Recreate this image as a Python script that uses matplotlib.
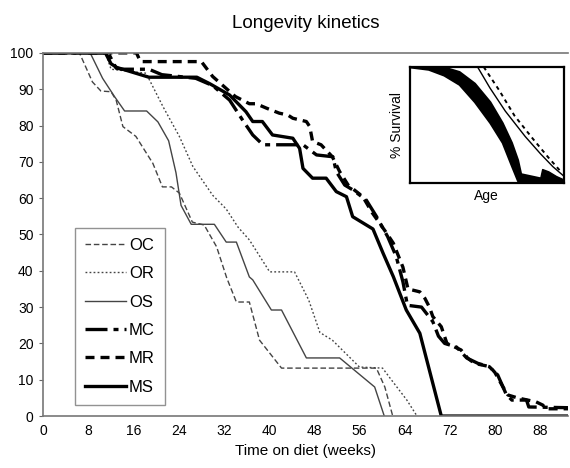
import matplotlib
matplotlib.use("Agg")
import matplotlib.pyplot as plt

plt.rcParams['font.family'] = ['Liberation Sans', 'DejaVu Sans']

# survival curves (weeks, % survival)
oc_t = [0, 6.4, 8.7, 10.2, 12.0, 12.9, 14.1, 16.4, 19.4, 21.1, 22.7, 24.1, 26.4, 28.5, 30.7, 32.5, 34.2, 36.5, 38.3, 42.2, 59.0, 60.5, 61.9]
oc_s = [100, 100, 92, 89.5, 89.3, 87, 79.7, 77, 69.6, 63.1, 63.1, 61.4, 53.4, 52.6, 46.6, 38, 31.4, 31.4, 20.9, 13.2, 13.2, 8, 0]

or_t = [0, 11, 12, 18.2, 21.2, 24.1, 26.5, 30.0, 32.4, 34.5, 36.5, 40.1, 44.5, 47.0, 49.0, 51.2, 56.0, 60.1, 61.3, 64.4, 66.2]
or_s = [100, 100, 95.5, 94.4, 85.2, 77, 68.7, 60.8, 57, 52, 48.5, 39.7, 39.7, 32, 23, 20.9, 13.5, 13.2, 10.7, 4.4, 0]

os_t = [0, 8.3, 10.5, 12.6, 14.4, 18.3, 20.3, 22.2, 23.5, 24.4, 26.2, 30.3, 32.4, 34.2, 36.5, 37.1, 40.4, 42.2, 46.6, 52.5, 58.7, 60.4]
os_s = [100, 100, 93, 88, 84, 84, 81, 75.8, 67, 58, 52.8, 52.8, 47.9, 47.9, 38.3, 37.5, 29.2, 29.2, 16, 16, 8, 0]

mc_t = [0, 11.5, 12.9, 14.0, 18.7, 21, 27, 30, 33, 35.3, 37.1, 38.9, 46.0, 48.4, 51.3, 51.9, 53.4, 54.8, 57.2, 59.0, 61.0, 62.5, 63.7, 64.5, 67.0, 69.0, 70.0,
        71.1, 73.2, 75.0, 77.0, 79.0, 80.5, 82.0, 83.0, 85.6, 86.0, 93]
mc_s = [100, 100, 95.8, 95.5, 95.5, 94, 93, 91, 87, 81.5, 77.4, 74.7, 74.7, 71.9, 71.4, 67.3, 63.6, 62.3, 59.5, 55, 49.4, 44, 37, 30.5, 30, 26, 22,
        20, 19, 16, 14.5, 13.6, 11.3, 6, 4.4, 4.4, 2.5, 2.3]

mr_t = [0, 16.5, 17.2, 28, 30, 34, 36.5, 37.7, 39.5, 41.8, 43.3, 44.2, 46.6, 47.2, 47.7, 49.2, 51.2, 52.5, 54.0, 56.6, 58.3, 60.8, 62.0, 63.7, 64.6, 66.7,
        67.6, 68.4, 69.0, 70.5, 71.5, 74.0, 75.2, 76.4, 79.1, 80.0, 81.4, 82.3, 84.0, 87.3, 88.5, 89.0, 93]
mr_s = [100, 100, 97.6, 97.6, 93.5, 88, 86, 86, 84.8, 83.4, 82.9, 82, 81.1, 79.7, 75.6, 74.7, 71.4, 67.3, 63.6, 60.4, 55.9, 50.4, 47.6, 41, 35, 34.2,
        32.4, 30, 27.4, 24.6, 20, 18.2, 15.9, 14.5, 13.6, 12, 8.1, 5.8, 5, 3.9, 3, 2, 2]

ms_t = [0, 11, 12, 13, 18.7, 27.2, 29.5, 33, 35.9, 37.1, 38.8, 40.6, 44.2, 45.4, 46.0, 47.7, 50.1, 51.9, 53.7, 54.8, 58.4, 60.2, 62.0, 64.3, 66.7, 70.5, 93]
ms_s = [100, 100, 97, 96, 93.3, 93.3, 91.5, 88.4, 83.8, 81.1, 81.1, 77.4, 76.5, 73.7, 68.2, 65.5, 65.5, 61.8, 60.4, 54.9, 51.5, 44.8, 38.4, 29.2, 22.8, 0, 0]

# inset: schematic survival vs age (age as fraction of span)
in_band_t = [0, 0.12, 0.22, 0.32, 0.42, 0.52, 0.60, 0.66, 0.70, 0.72, 1.0]
in_band_lo = [100, 98, 93, 85, 70, 52, 35, 15, 2, 0, 0]
in_band_hi = [100, 100, 100, 96, 86, 70, 52, 35, 20, 8, 0]
in_tail_t = [0.70, 0.84, 0.86, 0.90, 0.95, 1.0]
in_tail_s = [0, 0, 12, 10, 6, 3]
in_a_t = [0.44, 0.52, 0.62, 0.75, 0.85, 0.93, 1.0]
in_a_s = [100, 82, 62, 40, 25, 14, 6]
in_b_t = [0.48, 0.58, 0.68, 0.80, 0.90, 0.98]
in_b_s = [100, 80, 58, 38, 22, 10]

fig = plt.figure(figsize=(5.7, 4.68), dpi=100)
ax = fig.add_axes([0.076, 0.111, 0.921, 0.776])

grey = '#444444'
ax.plot(oc_t, oc_s, color=grey, lw=1.0, dashes=(4, 2), label='OC')
ax.plot(or_t, or_s, color=grey, lw=1.0, dashes=(1.3, 1.6), label='OR')
ax.plot(os_t, os_s, color=grey, lw=1.0, label='OS')
ax.plot(mc_t, mc_s, color='black', lw=2.4, dashes=(6.6, 1.8, 1.5, 1.8), label='MC')
ax.plot(mr_t, mr_s, color='black', lw=2.4, dashes=(2.7, 1.8), label='MR')
ax.plot(ms_t, ms_s, color='black', lw=2.4, label='MS')

ax.set_xlim(0, 93)
ax.set_ylim(0, 100)
ax.set_xticks(range(0, 89, 8))
ax.set_yticks(range(0, 101, 10))
ax.tick_params(axis='x', length=0, labelsize=10, pad=6)
ax.tick_params(axis='y', length=3, labelsize=10, color='#666666', pad=4)
ax.spines['right'].set_visible(False)
for s in ['top', 'left', 'bottom']:
    ax.spines[s].set_color('#777777')
    ax.spines[s].set_linewidth(1.2)

ax.set_title('Longevity kinetics', fontsize=13.5, pad=18)
ax.set_xlabel('Time on diet (weeks)', fontsize=11, labelpad=4)

leg = ax.legend(loc='upper left', bbox_to_anchor=(0.060, 0.518),
                frameon=True, fancybox=False, fontsize=12, handlelength=2.45, handletextpad=0.2,
                labelspacing=0.8, borderpad=0.6, borderaxespad=0)
leg.get_frame().set_edgecolor('#777777')
leg.get_frame().set_linewidth(1.0)

# inset
ins = fig.add_axes([0.719, 0.609, 0.270, 0.248])
ins.fill_between(in_band_t, in_band_lo, in_band_hi, color='black', lw=1.5)
ins.fill_between(in_tail_t, 0, in_tail_s, color='black', lw=1)
ins.plot(in_a_t, in_a_s, color='black', lw=1.0)
ins.plot(in_b_t, in_b_s, color='black', lw=1.4, dashes=(2, 2))
ins.set_xlim(0, 1)
ins.set_ylim(0, 100)
ins.set_xticks([])
ins.set_yticks([])
for s in ins.spines.values():
    s.set_linewidth(1.6)
ins.set_ylabel('% Survival', fontsize=10, labelpad=4)
ins.set_xlabel('Age', fontsize=10, labelpad=4)

fig.savefig('out.png', dpi=100)
